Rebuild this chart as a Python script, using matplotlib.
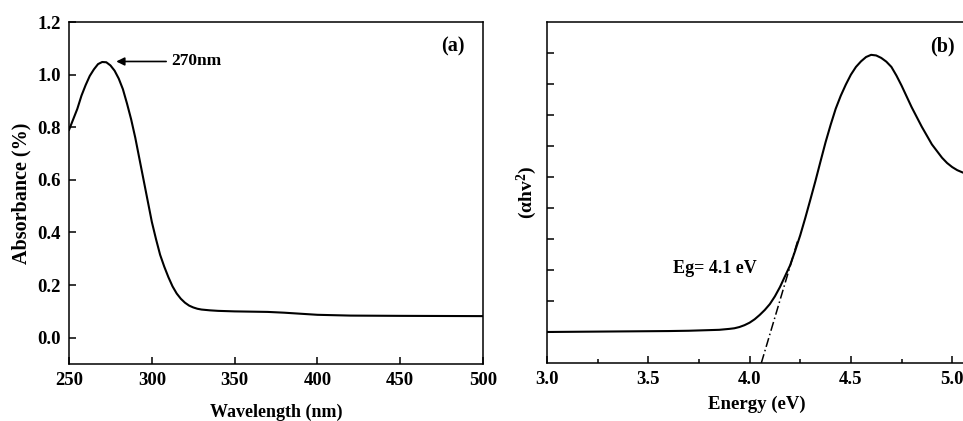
import matplotlib
matplotlib.use("Agg")
import matplotlib.pyplot as plt
from matplotlib.ticker import MultipleLocator, FormatStrFormatter

plt.rcParams['font.family'] = ['Liberation Serif', 'DejaVu Serif']
plt.rcParams['font.weight'] = 'bold'
plt.rcParams['mathtext.fontset'] = 'custom'
plt.rcParams['mathtext.rm'] = 'Liberation Serif:bold'
plt.rcParams['mathtext.bf'] = 'Liberation Serif:bold'
plt.rcParams['mathtext.default'] = 'bf'

# Panel (a): absorbance spectrum
wavelength = [250, 252.5, 255, 257.5, 260, 262.5, 265, 267.5, 270, 272.5, 275, 277.5,
              280, 282.5, 285, 287.5, 290, 292.5, 295, 297.5, 300, 302.5, 305, 307.5,
              310, 312.5, 315, 317.5, 320, 322.5, 325, 327.5, 330, 335, 340, 350, 360,
              370, 380, 390, 400, 420, 450, 500]
absorbance = [0.79, 0.83, 0.87, 0.92, 0.96, 0.995, 1.02, 1.04, 1.048, 1.047, 1.035,
              1.015, 0.985, 0.945, 0.89, 0.83, 0.76, 0.68, 0.60, 0.52, 0.44, 0.375,
              0.315, 0.27, 0.23, 0.195, 0.168, 0.148, 0.133, 0.122, 0.115, 0.110, 0.107,
              0.104, 0.102, 0.100, 0.099, 0.098, 0.095, 0.091, 0.087, 0.084, 0.083, 0.082]

# Panel (b): Tauc plot
energy = [3.0, 3.2, 3.4, 3.6, 3.7, 3.8, 3.85, 3.9, 3.925, 3.95, 3.975, 4.0, 4.025, 4.05,
          4.075, 4.1, 4.125, 4.15, 4.175, 4.2, 4.225, 4.25, 4.275, 4.3, 4.325, 4.35,
          4.375, 4.4, 4.425, 4.45, 4.475, 4.5, 4.525, 4.55, 4.575, 4.6, 4.625, 4.65,
          4.675, 4.7, 4.725, 4.75, 4.8, 4.85, 4.9, 4.95, 4.975, 5.0, 5.025, 5.05]
tauc = [1.00, 1.01, 1.02, 1.03, 1.04, 1.06, 1.07, 1.10, 1.12, 1.16, 1.22, 1.30, 1.41,
        1.55, 1.71, 1.90, 2.15, 2.45, 2.80, 3.15, 3.62, 4.12, 4.68, 5.27, 5.87, 6.50,
        7.12, 7.68, 8.20, 8.62, 8.98, 9.30, 9.55, 9.73, 9.87, 9.94, 9.92, 9.84,
        9.72, 9.55, 9.27, 8.95, 8.25, 7.62, 7.05, 6.62, 6.45, 6.32, 6.22, 6.15]

# Tangent (band-gap extrapolation)
tangent_x = [4.058, 4.24]
tangent_y = [0.0, 4.0]

fig = plt.figure(figsize=(9.63, 4.21), dpi=100)

lw_spine = 1.1
fs_tick = 13.5

# ---- Panel (a)
ax1 = fig.add_axes([0.0717, 0.1354, 0.4299, 0.8123])
ax1.plot(wavelength, absorbance, color='black', lw=1.5)
ax1.set_xlim(250, 500)
ax1.set_ylim(-0.1, 1.2)
ax1.set_xticks([250, 300, 350, 400, 450, 500])
ax1.set_yticks([0.0, 0.2, 0.4, 0.6, 0.8, 1.0, 1.2])
ax1.yaxis.set_major_formatter(FormatStrFormatter('%.1f'))
ax1.tick_params(direction='in', length=5, width=lw_spine, labelsize=fs_tick, pad=6)
for s in ax1.spines.values():
    s.set_linewidth(lw_spine)
ax1.set_xlabel('Wavelength (nm)', fontsize=13, fontweight='bold', labelpad=10)
ax1.set_ylabel('Absorbance (%)', fontsize=14.5, fontweight='bold', labelpad=4)
ax1.annotate('270nm', xy=(278.5, 1.05), xytext=(312, 1.05), fontsize=12.5,
             fontweight='bold', va='center', ha='left',
             arrowprops=dict(arrowstyle='-|>', color='black', lw=1.2, mutation_scale=12,
                             shrinkA=2, shrinkB=0))
ax1.text(482, 1.107, '(a)', fontsize=14.5, fontweight='bold', ha='center', va='center')

# ---- Panel (b)
ax2 = fig.add_axes([0.568, 0.1378, 0.4418, 0.8100])
ax2.plot(energy, tauc, color='black', lw=1.5)
ax2.plot(tangent_x, tangent_y, color='black', lw=1.1, linestyle=(0, (6, 2, 1, 2)))
ax2.set_xlim(3.0, 5.1)
ax2.set_ylim(0, 11)
ax2.set_xticks([3.0, 3.5, 4.0, 4.5, 5.0])
ax2.xaxis.set_minor_locator(MultipleLocator(0.25))
ax2.set_yticks(range(1, 11))
ax2.set_yticklabels([])
ax2.xaxis.set_major_formatter(FormatStrFormatter('%.1f'))
ax2.tick_params(direction='in', length=5, width=lw_spine, labelsize=fs_tick, pad=6)
ax2.tick_params(which='minor', direction='in', length=3, width=lw_spine)
for s in ax2.spines.values():
    s.set_linewidth(lw_spine)
ax2.set_xlabel('Energy (eV)', fontsize=13.5, fontweight='bold')
ax2.xaxis.set_label_coords(0.494, -0.095)
ax2.set_ylabel('(αhv$^{2}$)', fontsize=14, fontweight='bold', labelpad=0)
ax2.text(3.62, 3.06, 'Eg= 4.1 eV', fontsize=13, fontweight='bold', ha='left', va='center')
ax2.text(4.95, 10.2, '(b)', fontsize=14.5, fontweight='bold', ha='center', va='center')

fig.savefig('out.png', dpi=100)
